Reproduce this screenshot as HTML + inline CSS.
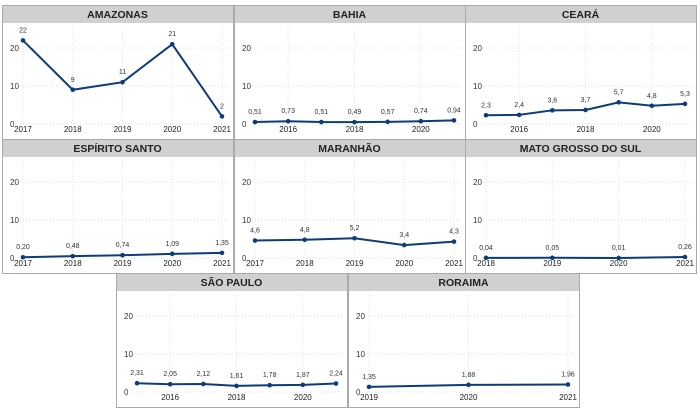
<!DOCTYPE html>
<html><head><meta charset="utf-8"><style>
body{margin:0;background:#fff;width:700px;height:415px;overflow:hidden;font-family:"Liberation Sans",sans-serif}
svg{position:absolute;left:0;top:0}
</style></head><body>
<svg id="c" width="700" height="415"></svg>
<script>
const titles=["AMAZONAS","BAHIA","CEARÁ","ESPÍRITO SANTO","MARANHÃO","MATO GROSSO DO SUL","SÃO PAULO","RORAIMA"];
const years=[[2017,2018,2019,2020,2021],[2015,2016,2017,2018,2019,2020,2021],[2015,2016,2017,2018,2019,2020,2021],[2017,2018,2019,2020,2021],[2017,2018,2019,2020,2021],[2018,2019,2020,2021],[2015,2016,2017,2018,2019,2020,2021],[2019,2020,2021]];
const values=[[22,9,11,21,2],[0.51,0.73,0.51,0.49,0.57,0.74,0.94],[2.3,2.4,3.6,3.7,5.7,4.8,5.3],[0.20,0.48,0.74,1.09,1.35],[4.6,4.8,5.2,3.4,4.3],[0.04,0.05,0.01,0.26],[2.31,2.05,2.12,1.61,1.78,1.87,2.24],[1.35,1.88,1.96]];
const labels=[["22","9","11","21","2"],["0,51","0,73","0,51","0,49","0,57","0,74","0,94"],["2,3","2,4","3,6","3,7","5,7","4,8","5,3"],["0,20","0,48","0,74","1,09","1,35"],["4,6","4,8","5,2","3,4","4,3"],["0,04","0,05","0,01","0,26"],["2,31","2,05","2,12","1,61","1,78","1,87","2,24"],["1,35","1,88","1,96"]];
const xTicks=[[2017,2018,2019,2020,2021],[2016,2018,2020],[2016,2018,2020],[2017,2018,2019,2020,2021],[2017,2018,2019,2020,2021],[2018,2019,2020,2021],[2016,2018,2020],[2019,2020,2021]];
const yTicks=[0,10,20];
const panels=[[2,5],[234,5],[465,5],[2,139],[234,139],[465,139],[116,273],[348,273]];
const S="http://www.w3.org/2000/svg",svg=document.getElementById('c');
function el(t,a,p){const e=document.createElementNS(S,t);for(const k in a)e.setAttribute(k,a[k]);(p||svg).appendChild(e);return e;}
panels.forEach((p,i)=>{
  const [px,py]=p,W=231,H=134;
  const g=el('g',{});
  
  
  el('rect',{x:px+0.5,y:py+0.5,width:W,height:H,fill:'#fff',stroke:'#aaa'},g);
  const tb=el('rect',{x:px+1,y:py+1,width:W-1,height:17,fill:'#d0d0d0'},g);
  
  const tt=el('text',{x:px+W/2,y:py+13,'text-anchor':'middle','font-size':10.5,'font-weight':'bold',fill:'#222'},g);
  tt.textContent=titles[i];
  
  const x0=px+21,x1=px+W-11,y0=py+119,k=3.8;
  const ys=years[i],n=ys.length;
  const xs=y=>x0+(y-ys[0])/(ys[n-1]-ys[0])*(x1-x0);
  const yv=v=>y0-v*k;
  yTicks.forEach(t=>{
    el('line',{x1:px+18,x2:px+W-3,y1:yv(t),y2:yv(t),stroke:'#ddd','stroke-dasharray':'1,2'},g);
    const l=el('text',{x:px+8,y:yv(t)+3,'font-size':8,fill:'#333'},g);l.textContent=t;
    
  });
  xTicks[i].forEach(t=>{
    el('line',{x1:xs(t),x2:xs(t),y1:py+22,y2:y0,stroke:'#e4e4e4','stroke-dasharray':'1,2'},g);
    const l=el('text',{x:xs(t),y:y0+8,'text-anchor':'middle','font-size':8,fill:'#222'},g);l.textContent=t;
    
  });
  const pts=ys.map((y,j)=>xs(y)+','+yv(values[i][j])).join(' ');
  const pl=el('polyline',{points:pts,fill:'none',stroke:'#0d3c78','stroke-width':2},g);
  
  ys.forEach((y,j)=>{
    const c=el('circle',{cx:xs(y),cy:yv(values[i][j]),r:2.3,fill:'#0d3c78'},g);
    
    const l=el('text',{x:xs(y),y:yv(values[i][j])-8,'text-anchor':'middle','font-size':7,fill:'#333'},g);
    l.textContent=labels[i][j];
    
  });
});
</script>
</body></html>
